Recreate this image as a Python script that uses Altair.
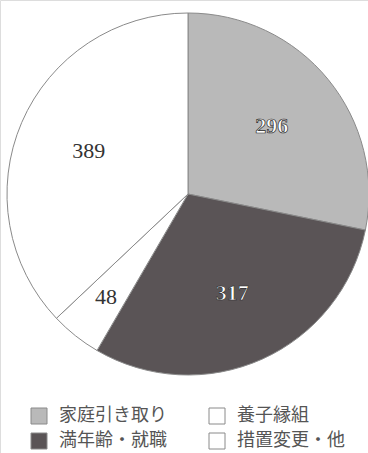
import altair as alt
import pandas as pd

categories = ["家庭引き取り", "満年齢・就職", "養子縁組", "措置変更・他"]
values = [296, 317, 48, 389]
pie_order = [1, 2, 3, 4]
legend_order = ["家庭引き取り", "満年齢・就職", "養子縁組", "措置変更・他"]
legend_colors = ["#b9b9b9", "#5a5456", "#ffffff", "#ffffff"]
outlined = [True, True, False, False]

df = pd.DataFrame({"cat": categories, "value": values, "ord": pie_order, "outlined": outlined})

CX, CY, R = 188, 194, 181
num_font = "'Liberation Serif', 'DejaVu Serif', serif"
jp_font = "Noto Sans CJK JP"

pie = alt.Chart(df).mark_arc(outerRadius=R, stroke="#8a8a8a", strokeWidth=1).encode(
    theta=alt.Theta("value:Q", stack=True),
    order=alt.Order("ord:Q"),
    x=alt.value(CX),
    y=alt.value(CY),
    color=alt.Color(
        "cat:N",
        scale=alt.Scale(domain=legend_order, range=legend_colors),
        legend=alt.Legend(
            title=None,
            orient="none",
            legendX=30,
            legendY=407,
            columns=2,
            columnPadding=40,
            rowPadding=5,
            symbolType="square",
            symbolSize=256,
            symbolStrokeColor="#8a8a8a",
            symbolStrokeWidth=1,
            symbolOpacity=1,
            labelFont=jp_font,
            labelFontSize=18,
            labelColor="#555555",
            labelOffset=11,
            labelLimit=200,
        ),
    ),
)

text_base = alt.Chart(df).transform_window(
    cum="sum(value)", sort=[alt.SortField("ord", order="ascending")]
).transform_calculate(
    mid="datum.cum - datum.value / 2",
    r="datum.value < 100 ? 132 : 108",
).encode(
    theta=alt.Theta("mid:Q", stack=None),
    x=alt.value(CX),
    y=alt.value(CY),
    radius=alt.Radius("r:Q", scale=None),
    text="value:Q",
)

labels_plain = text_base.transform_filter("!datum.outlined").mark_text(
    font=num_font, fontSize=22, fill="#333333", baseline="middle"
)
labels_outline = text_base.transform_filter("datum.outlined").mark_text(
    font=num_font, fontSize=22, fontWeight="bold", fill="#ffffff", stroke="#2a2a2a",
    strokeWidth=0.7, baseline="middle"
)

chart = alt.layer(pie, labels_plain, labels_outline).properties(
    width=368, height=453, padding=0, autosize=alt.AutoSizeParams(type="none")
).configure_view(stroke=None).configure(background="#ffffff")

chart.save("out.html", embed_options={"renderer": "svg", "actions": False})
